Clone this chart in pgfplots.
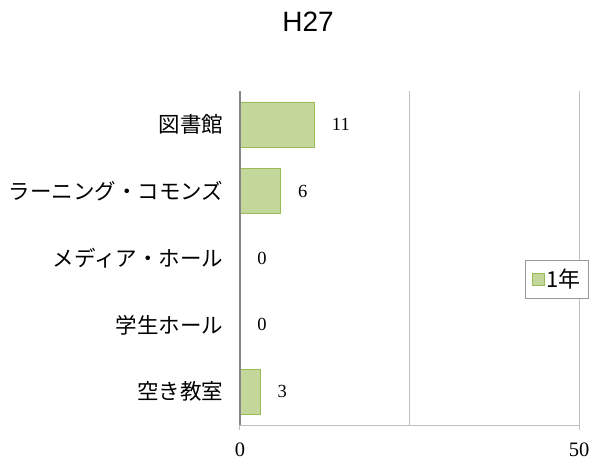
\documentclass[border=0pt]{standalone}
\usepackage{pgfplots}
\pgfplotsset{compat=1.18}
\usepackage{fontspec}
\setmainfont{Liberation Serif}
\newfontfamily\jp{Noto Sans CJK JP}
\newfontfamily\sans{Liberation Sans}
\definecolor{barfill}{HTML}{C4D79B}
\definecolor{baredge}{HTML}{9BBB59}
\definecolor{gridc}{HTML}{BFBFBF}
\definecolor{axc}{HTML}{868686}
\begin{document}
\begin{tikzpicture}[x=1pt,y=1pt]
\path[use as bounding box] (0,0) rectangle (597,463);
\begin{axis}[
  at={(240pt,38pt)}, anchor=south west,
  scale only axis, width=339pt, height=334pt,
  axis on top,
  /pgf/number format/assume math mode=true,
  xbar, bar width=45pt,
  xmin=0, xmax=50,
  ymin=-0.5, ymax=4.5, y dir=reverse,
  ytick={0,1,2,3,4},
  yticklabels={図書館,ラーニング・コモンズ,メディア・ホール,学生ホール,空き教室},
  yticklabel style={font=\jp\fontsize{21.5}{23}\selectfont, xshift=-8pt},
  ytick style={draw=none},
  xtick={0,50},
  xticklabel style={font=\fontsize{20.5}{20.5}\selectfont, yshift=-9pt},
  xtick pos=bottom, xtick align=outside, major tick length=5pt,
  xtick style={draw=gridc, line width=1pt},
  xmajorgrids=true,
  grid style={draw=gridc, line width=1pt},
  extra x ticks={25}, extra x tick labels={},
  extra x tick style={grid=major, major tick length=0pt},
  axis x line*=bottom, axis y line*=left,
  x axis line style={-, draw=gridc, line width=1pt},
  y axis line style={-, draw=axc, line width=2pt},
  nodes near coords,
  nodes near coords style={font=\fontsize{18.5}{18.5}\selectfont, anchor=west, inner sep=0pt, xshift=17pt, text=black},
  title={H27},
  title style={at={(0.2006,1.1886)}, anchor=center, font=\sans\fontsize{28}{28}\selectfont},
  legend style={at={(0.841,0.436)}, anchor=west, draw=gray!80, line width=0.8pt,
    font=\jp\fontsize{22}{24}\selectfont, inner xsep=6pt, inner ysep=7pt},
  legend image code/.code={\draw[fill=barfill, draw=baredge, line width=0.6pt] (0pt,-6pt) rectangle (12pt,6pt);},
]
\addplot[fill=barfill, draw=baredge, line width=0.8pt] coordinates {(11,0) (6,1) (0,2) (0,3) (3,4)};
\addlegendentry{1年}
\end{axis}
\end{tikzpicture}
\end{document}
